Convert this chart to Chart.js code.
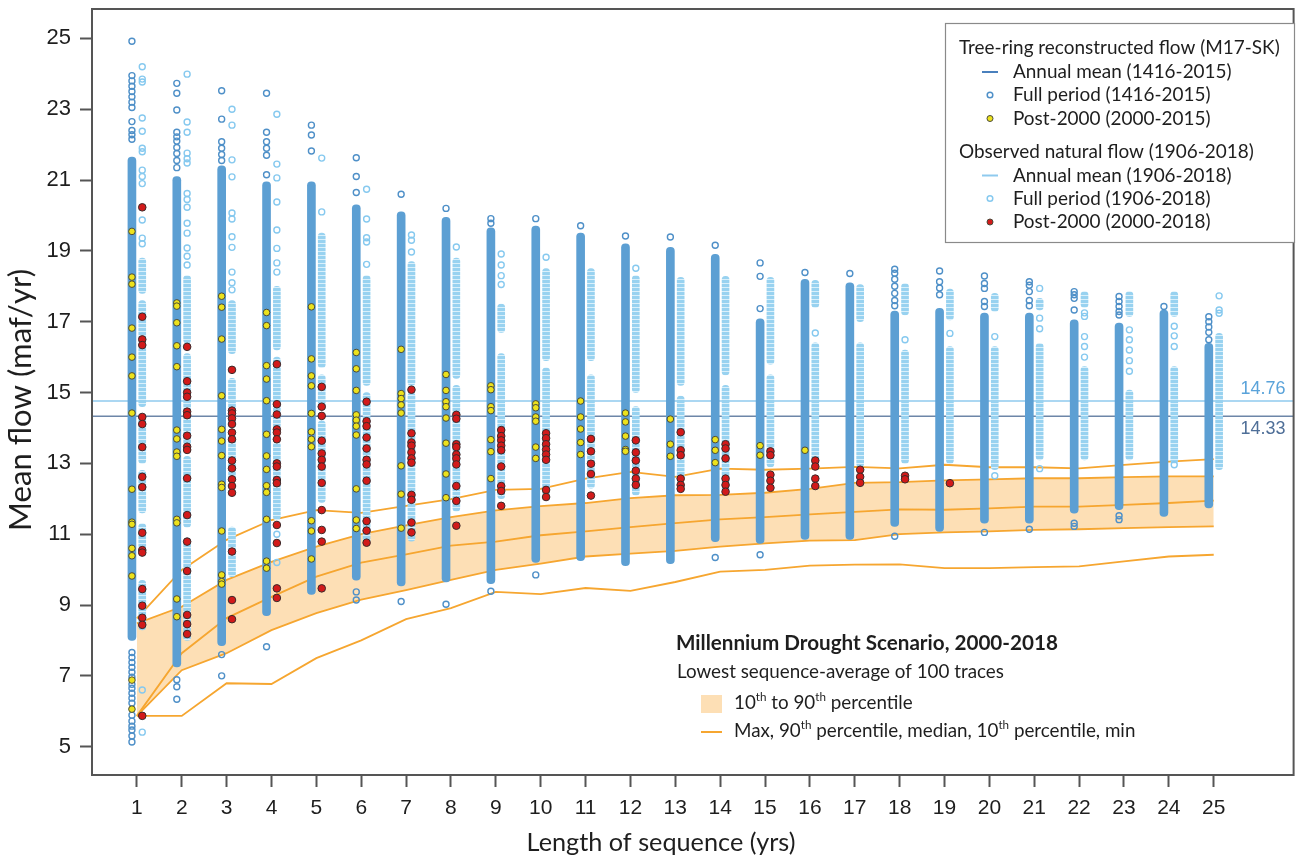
<!DOCTYPE html>
<html>
<head>
<meta charset="utf-8">
<title>Millennium Drought Scenario</title>
<script src="https://cdn.jsdelivr.net/npm/chart.js@4.4.1/dist/chart.umd.min.js"></script>
<style>
  html, body { margin: 0; padding: 0; background: #fff; }
  #wrap { width: 1299px; height: 859px; }
</style>
</head>
<body>
<div id="wrap"><canvas id="chart" width="1299" height="859"></canvas></div>
<script>
// Length of sequence (yrs)
const lengths = [1,2,3,4,5,6,7,8,9,10,11,12,13,14,15,16,17,18,19,20,21,22,23,24,25];
const xTicks = lengths;
const yTicks = [5,7,9,11,13,15,17,19,21,23,25];

// annual means (maf/yr)
const treeMean = 14.33;
const obsMean = 14.76;

// Millennium Drought scenario, lowest sequence-average of 100 traces
const droughtMax    = [8.62,9.99,10.84,11.40,11.68,11.60,11.80,11.99,12.25,12.28,12.57,12.76,12.62,12.85,12.82,12.85,12.90,12.86,12.96,12.89,12.89,12.86,12.96,13.05,13.12];
const droughtP90    = [8.48,8.95,9.71,10.22,10.65,11.00,11.25,11.48,11.67,11.79,11.88,12.02,12.10,12.11,12.17,12.28,12.45,12.47,12.52,12.55,12.58,12.58,12.61,12.63,12.63];
const droughtMedian = [5.87,7.64,8.63,9.23,9.80,10.20,10.43,10.68,10.79,10.97,11.08,11.20,11.31,11.42,11.48,11.56,11.63,11.70,11.69,11.73,11.78,11.78,11.83,11.88,11.95];
const droughtP10    = [5.87,7.16,7.64,8.29,8.77,9.15,9.42,9.71,9.99,10.17,10.37,10.45,10.53,10.65,10.74,10.82,10.83,11.00,11.05,11.08,11.12,11.14,11.17,11.20,11.22];
const droughtMin    = [5.87,5.87,6.79,6.77,7.50,8.00,8.60,8.91,9.37,9.31,9.48,9.40,9.65,9.94,9.99,10.11,10.14,10.15,10.04,10.04,10.07,10.09,10.23,10.37,10.42];

// tree-ring reconstructed flow: densely packed ranges [lo, hi], single circles, post-2000 values
const treeRuns = [
  [[8.00,21.65]],[[7.25,21.10]],[[7.85,21.40]],[[8.70,20.95]],[[9.30,20.95]],
  [[9.70,20.30]],[[9.54,20.10]],[[9.65,19.95]],[[9.60,19.65]],[[10.20,19.70]],
  [[10.25,19.50]],[[10.11,19.20]],[[10.17,19.10]],[[10.79,18.90]],[[10.74,17.08]],
  [[10.85,18.20]],[[10.85,18.10]],[[11.22,17.30]],[[11.08,17.38]],[[11.31,17.24]],
  [[11.31,17.24]],[[11.59,17.05]],[[11.69,16.96]],[[11.50,17.33]],[[11.74,16.39]]
];
const treeDots = [
  [24.92,23.95,23.80,23.65,23.50,23.35,23.20,23.05,22.65,22.40,22.28,22.15,7.66,7.52,7.38,7.24,7.10,6.96,6.76,6.65,6.51,6.37,6.23,5.89,5.72,5.58,5.47,5.30,5.13],
  [23.73,23.45,22.98,22.35,22.22,22.10,21.92,21.75,21.55,21.35,6.89,6.69,6.34],
  [23.52,22.72,22.08,21.90,21.72,21.55,7.60,7.00],
  [23.45,22.35,22.08,21.90,21.70,21.15,7.82],
  [22.55,22.27,21.82],
  [21.63,21.10,20.65,9.37,9.14],
  [20.60,9.10],
  [20.20,9.02],
  [19.91,19.78,9.39],
  [19.91,9.85],
  [19.71],
  [19.42],
  [19.39],
  [19.16,10.34],
  [18.66,18.28,17.37,10.42],
  [18.39],
  [18.36],
  [18.48,18.37,18.20,18.00,17.80,17.60,17.45,10.94],
  [18.43,18.13,17.95,17.76],
  [18.29,18.08,17.94,17.57,17.43,11.05],
  [18.13,18.03,17.85,17.60,17.45,11.14],
  [17.85,17.76,17.66,17.33,11.31,11.22],
  [17.71,17.57,17.43,17.29,17.19,11.52,11.41],
  [17.43],
  [17.14,17.00,16.85,16.70,16.49]
];
const treePost2000 = [
  [19.55,18.26,18.06,16.82,16.00,15.47,14.42,12.27,11.34,11.28,10.60,10.39,9.82,6.88,6.06],
  [17.53,17.44,16.97,16.32,15.73,13.94,13.69,13.32,13.20,11.42,11.32,9.17,8.67],
  [17.72,17.41,16.51,14.91,13.96,13.63,13.22,12.41,12.32,11.09,9.85,9.66,9.59],
  [17.26,16.89,15.76,15.38,14.77,13.82,13.21,12.83,12.37,12.18,11.42,10.24,10.04],
  [17.42,15.95,15.47,15.19,14.41,13.89,13.68,13.47,11.38,11.09,10.30],
  [16.13,15.67,15.06,14.37,14.22,14.05,13.80,12.28,11.40,11.16],
  [16.22,14.97,14.83,14.65,14.42,12.93,12.13,11.17],
  [15.51,15.06,14.74,14.60,14.28,13.57,12.70,12.03],
  [15.19,15.08,14.60,14.49,13.67,13.33,12.57],
  [14.68,14.57,14.31,14.19,13.46,13.14],
  [14.76,14.31,13.97,13.59,13.25],
  [14.42,14.17,13.77,13.39,13.34],
  [14.25,13.54,13.20],
  [13.67,13.37,13.02],
  [13.50,13.23],
  [13.37],
  [],[],[],[],[],[],[],[],[]
];

// observed natural flow: densely packed ranges [lo, hi], single circles, post-2000 values
const obsRuns = [
  [[17.8,18.8],[16.4,17.6],[14.6,16.3],[13.0,14.4],[11.6,12.8],[10.6,11.3],[8.3,9.7]],
  [[16.4,18.3],[13.5,16.1],[11.2,13.2],[8.0,10.9]],
  [[16.1,17.6],[14.0,15.4],[12.5,13.8],[9.8,11.2]],
  [[16.2,18.0],[14.0,16.0],[11.4,13.6]],
  [[15.7,19.5],[14.5,15.5],[11.9,14.2]],
  [[15.2,18.3],[10.74,15.0]],
  [[15.2,18.7],[10.8,15.0]],
  [[15.4,18.8],[11.65,15.2]],
  [[16.7,17.5],[12.0,16.1]],
  [[15.9,18.5],[12.1,15.7]],
  [[15.9,18.5],[12.3,15.5]],
  [[15.0,18.3],[12.1,14.6]],
  [[15.2,18.25],[12.5,14.9]],
  [[15.5,18.28],[12.2,15.2]],
  [[15.8,18.25],[12.9,15.5]],
  [[17.4,18.17],[12.9,16.4]],
  [[17.0,18.05],[12.9,16.4]],
  [[17.19,18.08],[13.0,16.2]],
  [[17.05,17.92],[13.0,16.3]],
  [[17.29,17.8],[12.82,16.3]],
  [[17.33,17.66],[13.1,16.39]],
  [[17.4,17.85],[13.1,15.73]],
  [[17.15,17.85],[13.1,15.07]],
  [[17.15,17.85],[13.0,15.73]],
  [[12.82,16.67]]
];
const obsDots = [
  [24.20,23.85,23.77,22.75,22.38,21.90,21.80,21.28,21.10,20.90,19.87,19.36,19.20,6.60,5.41],
  [23.99,22.64,22.35,21.76,21.60,21.48,20.62,20.45,20.23,19.78,19.50,19.08,18.85,18.60],
  [23.00,22.55,21.57,21.09,20.07,19.90,19.40,19.10,18.40,18.10,17.90],
  [22.86,21.45,21.06,20.38,19.59,19.07,18.66,18.40,11.00,10.20],
  [21.62,20.10],
  [20.74,19.90,19.37,19.25,18.62],
  [19.45,19.30,18.97],
  [19.11],
  [18.91,18.60,18.30,18.05],
  [18.82],
  [],
  [18.51],
  [],
  [],
  [],
  [16.68],
  [],
  [16.49],
  [16.67],
  [16.58,12.65],
  [17.94,17.10,16.80,12.85],
  [17.25,17.15,16.58,16.30,16.00],
  [16.77,16.49,16.20,15.90,15.60],
  [16.87,16.60,16.30,12.96],
  [17.73,17.33,17.24]
];
const obsPost2000 = [
  [20.23,17.14,16.50,16.34,14.31,14.11,13.46,12.62,12.33,11.04,10.55,10.48,9.45,8.98,8.64,8.44,5.87],
  [16.29,15.32,15.00,14.88,14.46,14.36,13.78,13.47,13.38,12.58,11.54,10.79,9.96,8.72,8.46,8.18],
  [15.64,14.49,14.41,14.27,14.11,13.87,13.68,13.08,12.86,12.55,12.36,12.17,10.51,9.14,8.60],
  [15.80,14.67,14.38,13.96,13.87,13.68,13.00,12.91,12.53,12.44,11.26,10.75,9.47,9.20],
  [15.16,14.60,14.34,13.64,13.28,13.10,12.91,12.45,11.68,11.12,10.79,9.47],
  [14.74,14.19,14.05,13.73,13.42,13.10,12.97,12.51,11.37,11.10,10.76],
  [15.08,13.85,13.59,13.50,13.31,13.14,13.02,12.11,11.97,11.33,11.05],
  [14.37,14.26,13.54,13.46,13.25,13.14,12.97,12.36,11.94,11.24],
  [13.94,13.77,13.65,13.50,13.37,12.91,12.36,12.22,11.80],
  [13.85,13.71,13.54,13.39,13.25,13.10,12.25,12.05],
  [13.69,13.34,12.99,12.70,12.09],
  [13.65,13.31,13.08,12.79,12.57,12.39],
  [13.88,13.37,13.23,12.57,12.39,12.28],
  [13.54,13.42,13.14,12.57,12.39,12.20],
  [13.34,13.23,12.68,12.51,12.31],
  [13.08,12.91,12.57,12.36],
  [12.82,12.62,12.45],
  [12.65,12.55],
  [12.44],
  [],[],[],[],[],[]
];

// ---- styling ----
const TREE_SHIFT = -0.11, OBS_SHIFT = 0.12;
const X_MIN = 0, X_MAX = 26.78;
const C = {
  tree: '#5c9fd3', treeRing: '#4f90c8', obs: '#a4d8f2', obsRing: '#86c9ef',
  treeLine: '#6d86a8', obsLine: '#8fcaee',
  treeLabel: '#4f6f98', obsLabel: '#5aa3da',
  yellow: '#ece21c', red: '#d21a1a', dotEdge: '#4a4a3a',
  orange: '#f6a630', band: 'rgba(252,204,135,0.62)', axis: '#555', text: '#1e1e1e'
};
const TEXT_FONT = 'Lato, "Open Sans", sans-serif';
const NUM_FONT = '"Liberation Sans", Arial, sans-serif';

// faint ring texture for the observed columns
function ringTexture() {
  const c = document.createElement('canvas');
  c.width = 4; c.height = 4;
  const g = c.getContext('2d');
  g.fillStyle = '#98d2f0';
  g.fillRect(0, 0, 4, 4);
  g.fillStyle = '#d9f0fb';
  g.fillRect(0, 3, 4, 1);
  return g.createPattern(c, 'repeat');
}

function bars(runs, shift) {
  const out = [];
  runs.forEach((list, i) => list.forEach(r => out.push({x: lengths[i] + shift, y: r})));
  return out;
}
function points(lists, shift) {
  const out = [];
  lists.forEach((list, i) => list.forEach(v => out.push({x: lengths[i] + shift, y: v})));
  return out;
}
function curve(vals) { return vals.map((v, i) => ({x: lengths[i], y: v})); }

function curveSet(vals, extra) {
  return Object.assign({
    type: 'line', data: curve(vals), borderColor: C.orange, borderWidth: 1.8,
    pointRadius: 0, tension: 0, fill: false, order: 85
  }, extra || {});
}
function barSet(data, color, width) {
  return {type: 'bar', data, backgroundColor: color, barThickness: width, grouped: false,
    borderRadius: 4, borderSkipped: false, borderWidth: 0, order: 80};
}
function dotSet(data, stroke, fill, r, bw, order) {
  return {type: 'scatter', data, pointStyle: 'circle', pointRadius: r, pointBorderWidth: bw,
    pointBorderColor: stroke, pointBackgroundColor: fill, showLine: false, order};
}

const datasets = [
  // 10th to 90th band
  curveSet(droughtP90, {borderWidth: 0, fill: '+1', backgroundColor: C.band, order: 100}),
  curveSet(droughtP10, {borderWidth: 0, order: 100}),
  // annual means
  {type: 'line', data: [{x: X_MIN, y: obsMean}, {x: X_MAX, y: obsMean}], borderColor: C.obsLine, borderWidth: 1.6, pointRadius: 0, order: 90},
  {type: 'line', data: [{x: X_MIN, y: treeMean}, {x: X_MAX, y: treeMean}], borderColor: C.treeLine, borderWidth: 1.6, pointRadius: 0, order: 90},
  // percentile lines
  curveSet(droughtMax), curveSet(droughtP90), curveSet(droughtMedian), curveSet(droughtP10), curveSet(droughtMin),
  // full-period columns
  barSet(bars(treeRuns, TREE_SHIFT), C.tree, 8),
  barSet(bars(obsRuns, OBS_SHIFT), ringTexture(), 7),
  dotSet(points(treeDots, TREE_SHIFT), C.treeRing, 'rgba(255,255,255,0)', 3, 1.4, 70),
  dotSet(points(obsDots, OBS_SHIFT), C.obsRing, 'rgba(255,255,255,0)', 3, 1.4, 70),
  // post-2000
  dotSet(points(treePost2000, TREE_SHIFT), C.dotEdge, C.yellow, 3.3, 1, 20),
  dotSet(points(obsPost2000, OBS_SHIFT), '#3a2a2a', C.red, 3.8, 1, 10)
];

function fitSize(ctx, text, width, weight, family) {
  ctx.font = weight + ' 100px ' + family;
  return 100 * width / ctx.measureText(text).width;
}
// parts beginning with ^ are superscripts
function drawRich(ctx, parts, x, y, size, weight, family) {
  ctx.textBaseline = 'middle';
  ctx.textAlign = 'left';
  parts.forEach(p => {
    const sup = p[0] === '^';
    const t = sup ? p.slice(1) : p;
    const s = sup ? size * 0.62 : size;
    ctx.font = weight + ' ' + s + 'px ' + family;
    ctx.fillText(t, x, sup ? y - size * 0.32 : y);
    x += ctx.measureText(t).width;
  });
}

const frame = {
  id: 'frame',
  afterDatasetsDraw(chart) {
    const {ctx, chartArea: a} = chart;
    ctx.save();
    ctx.strokeStyle = C.axis;
    ctx.lineWidth = 2;
    ctx.strokeRect(a.left, a.top, a.right - a.left, a.bottom - a.top);
    ctx.restore();
  }
};

const notes = {
  id: 'notes',
  afterDraw(chart) {
    const ctx = chart.ctx, ys = chart.scales.y;
    ctx.save();
    ctx.fillStyle = C.text;

    // axis titles
    const tSize = fitSize(ctx, 'Length of sequence (yrs)', 269, 'normal', TEXT_FONT);
    ctx.font = tSize + 'px ' + TEXT_FONT;
    ctx.textAlign = 'center';
    ctx.textBaseline = 'middle';
    ctx.fillText('Length of sequence (yrs)', 661, 843);
    const ySize = fitSize(ctx, 'Mean flow (maf/yr)', 262, 'normal', TEXT_FONT);
    ctx.font = ySize + 'px ' + TEXT_FONT;
    ctx.save();
    ctx.translate(21, 400);
    ctx.rotate(-Math.PI / 2);
    ctx.fillText('Mean flow (maf/yr)', 0, 0);
    ctx.restore();

    // mean labels
    ctx.font = '18px ' + NUM_FONT;
    ctx.fillStyle = C.obsLabel;
    ctx.fillText(obsMean.toFixed(2), 1263, ys.getPixelForValue(obsMean) - 12);
    ctx.fillStyle = C.treeLabel;
    ctx.fillText(treeMean.toFixed(2), 1263, ys.getPixelForValue(treeMean) + 13);

    // legend box
    ctx.fillStyle = '#fff';
    ctx.fillRect(945, 23, 350, 220);
    ctx.strokeStyle = '#8a8a8a';
    ctx.lineWidth = 1.2;
    ctx.strokeRect(945.5, 23.5, 349, 219);
    const lSize = fitSize(ctx, 'Tree-ring reconstructed flow (M17-SK)', 321, 'normal', TEXT_FONT);
    ctx.fillStyle = C.text;
    ctx.textAlign = 'left';
    ctx.font = lSize + 'px ' + TEXT_FONT;
    const rows = [
      ['Tree-ring reconstructed flow (M17-SK)', 47.5, null],
      ['Annual mean (1416-2015)', 72, 'treeLine'],
      ['Full period (1416-2015)', 95, 'treeRing'],
      ['Post-2000 (2000-2015)', 118.5, 'yellow'],
      ['Observed natural flow (1906-2018)', 152, null],
      ['Annual mean (1906-2018)', 175.5, 'obsLine'],
      ['Full period (1906-2018)', 198.5, 'obsRing'],
      ['Post-2000 (2000-2018)', 222, 'red']
    ];
    rows.forEach(([t, y, sym]) => {
      ctx.fillStyle = C.text;
      ctx.fillText(t, sym ? 1013 : 959, y);
      if (!sym) return;
      ctx.beginPath();
      if (sym === 'treeLine' || sym === 'obsLine') {
        ctx.strokeStyle = sym === 'treeLine' ? '#4a80bd' : C.obsLine;
        ctx.lineWidth = 2;
        ctx.moveTo(982, y); ctx.lineTo(998, y);
        ctx.stroke();
      } else if (sym === 'treeRing' || sym === 'obsRing') {
        ctx.strokeStyle = C[sym];
        ctx.lineWidth = 1.5;
        ctx.arc(990, y, 2.8, 0, Math.PI * 2);
        ctx.stroke();
      } else {
        ctx.fillStyle = C[sym];
        ctx.strokeStyle = C.dotEdge;
        ctx.lineWidth = 1;
        ctx.arc(990, y, 3, 0, Math.PI * 2);
        ctx.fill(); ctx.stroke();
      }
    });

    // drought scenario key
    ctx.fillStyle = C.text;
    const bSize = fitSize(ctx, 'Millennium Drought Scenario, 2000-2018', 382, 'bold', TEXT_FONT);
    ctx.font = 'bold ' + bSize + 'px ' + TEXT_FONT;
    ctx.fillText('Millennium Drought Scenario, 2000-2018', 676, 643);
    const nSize = fitSize(ctx, 'Lowest sequence-average of 100 traces', 327, 'normal', TEXT_FONT);
    ctx.font = nSize + 'px ' + TEXT_FONT;
    ctx.fillText('Lowest sequence-average of 100 traces', 677, 672);
    ctx.fillStyle = C.band;
    ctx.fillRect(701, 695, 21, 18);
    ctx.strokeStyle = C.orange;
    ctx.lineWidth = 2;
    ctx.beginPath(); ctx.moveTo(701, 732); ctx.lineTo(722, 732); ctx.stroke();
    ctx.fillStyle = C.text;
    drawRich(ctx, ['10', '^th', ' to 90', '^th', ' percentile'], 734, 703, nSize, 'normal', TEXT_FONT);
    drawRich(ctx, ['Max, 90', '^th', ' percentile, median, 10', '^th', ' percentile, min'], 734, 731, nSize, 'normal', TEXT_FONT);
    ctx.restore();
  }
};

new Chart(document.getElementById('chart'), {
  type: 'scatter',
  data: {datasets},
  options: {
    responsive: false,
    animation: false,
    devicePixelRatio: 1,
    layout: {padding: {top: 9, right: 2, left: 0, bottom: 0}},
    plugins: {legend: {display: false}, tooltip: {enabled: false}},
    scales: {
      x: {
        type: 'linear', min: X_MIN, max: X_MAX, offset: false,
        border: {display: false},
        grid: {drawOnChartArea: false, drawTicks: true, tickLength: 12, tickColor: C.axis, tickWidth: 2, offset: false},
        ticks: {font: {family: NUM_FONT, size: 21}, color: C.text, padding: 9, autoSkip: false, maxRotation: 0},
        afterBuildTicks: s => { s.ticks = xTicks.map(v => ({value: v})); },
        afterFit: s => { s.height = 84; s.paddingLeft = 0; s.paddingRight = 0; }
      },
      y: {
        type: 'linear', min: 4.2, max: 25.83, beginAtZero: false,
        border: {display: false},
        grid: {drawOnChartArea: false, drawTicks: true, tickLength: 12, tickColor: C.axis, tickWidth: 2},
        ticks: {font: {family: NUM_FONT, size: 22}, color: C.text, padding: 9},
        afterBuildTicks: s => { s.ticks = yTicks.map(v => ({value: v})); },
        afterFit: s => { s.width = 92; s.paddingTop = 0; s.paddingBottom = 0; }
      }
    }
  },
  plugins: [frame, notes]
});
</script>
</body>
</html>
